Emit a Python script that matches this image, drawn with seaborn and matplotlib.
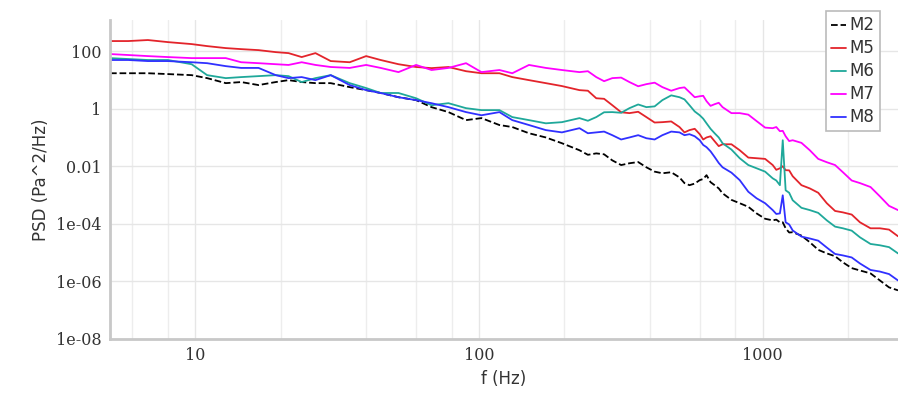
import numpy as np
import pandas as pd
import seaborn as sns
import matplotlib.pyplot as plt
from matplotlib.ticker import LogLocator, FixedLocator, NullFormatter

sns.set_style('white')
plt.rcParams['font.family'] = ['DejaVu Sans']

# frequency grid (Hz)
freq = [5, 5.8, 6.8, 8, 9.7, 11, 12.8, 14.5, 16.7, 19.2, 21.3, 23.7, 26.5, 30, 35, 40, 45,
        52, 60, 68, 78, 90, 102, 118, 131, 150, 172, 196,
        226, 242, 259, 276, 295, 317, 339, 364, 389, 416, 443, 476, 509, 530, 552, 576,
        600, 617, 634, 655, 677, 700, 722, 776, 830, 890, 952, 1020, 1085, 1117, 1150,
        1177, 1205, 1240, 1276, 1370, 1466, 1570, 1683, 1800, 1918, 2060, 2203, 2400,
        2590, 2790, 3000]

m2 = [17, 17, 17, 15.9, 14.6, 11.5, 7.7, 8.4, 6.6, 8.4, 9.8, 8.4, 7.7, 7.7, 5.6, 4.4, 3.5,
      2.5, 1.98, 1.13, 0.76, 0.40, 0.47, 0.27, 0.23, 0.14, 0.10, 0.063,
      0.036, 0.025, 0.028, 0.026, 0.016, 0.011, 0.0127, 0.014, 0.0092, 0.0065, 0.0057,
      0.0062, 0.0041, 0.0026, 0.0022, 0.0025, 0.0033, 0.0036, 0.0049, 0.0028, 0.0022,
      0.0017, 0.00115, 6.8e-4, 5.2e-4, 3.9e-4, 2.3e-4, 1.5e-4, 1.32e-4, 1.4e-4, 1.13e-4,
      1.13e-4, 7.0e-5, 5.0e-5, 5.1e-5, 3.9e-5, 2.3e-5, 1.25e-5, 9.4e-6, 7.5e-6, 4.6e-6,
      2.9e-6, 2.4e-6, 1.9e-6, 1.08e-6, 6.2e-7, 4.9e-7]

m5 = [223, 223, 242, 205, 175, 149, 127, 117, 108, 92, 85, 62, 85, 45, 41, 67, 49,
      35, 28, 25.6, 28, 20, 17, 17, 12.5, 9.8, 7.7, 6.1,
      4.4, 4.2, 2.3, 2.2, 1.32, 0.75, 0.70, 0.78, 0.51, 0.33, 0.34, 0.36, 0.23, 0.15,
      0.18, 0.20, 0.13, 0.085, 0.10, 0.11, 0.074, 0.05, 0.058, 0.058, 0.036, 0.020,
      0.019, 0.018, 0.011, 0.0075, 0.0085, 0.010, 0.0073, 0.0072, 0.0045, 0.0022,
      0.0017, 1.2e-3, 5.2e-4, 2.8e-4, 2.5e-4, 2.1e-4, 1.13e-4, 7.0e-5, 7.0e-5, 6.3e-5,
      3.7e-5]

m6 = [57, 53, 49, 49, 35, 14.6, 11.5, 12.5, 13.5, 14.6, 13.5, 8.4, 11.5, 14.6, 7.7, 5.2, 3.5,
      3.5, 2.3, 1.32, 1.55, 1.04, 0.89, 0.89, 0.51, 0.40, 0.31, 0.34,
      0.47, 0.38, 0.51, 0.75, 0.76, 0.72, 1.04, 1.4, 1.13, 1.2, 1.98, 2.9, 2.5, 2.1,
      1.32, 0.80, 0.59, 0.45, 0.31, 0.20, 0.14, 0.10, 0.063, 0.038, 0.019, 0.011,
      0.0085, 0.0065, 0.0038, 0.0032, 0.0022, 0.080, 0.00146, 1.2e-3, 6.6e-4, 3.6e-4,
      3.0e-4, 2.4e-4, 1.32e-4, 8.0e-5, 7.0e-5, 5.8e-5, 3.4e-5, 2.0e-5, 1.8e-5, 1.55e-5,
      9.4e-6]

m7 = [79, 73, 67, 62, 57, 57, 57, 41, 38, 35, 33, 41, 33, 28, 26, 33, 26,
      18.6, 33, 22, 26, 38, 18.6, 22, 17, 33, 26, 22,
      18.6, 20, 12.5, 9.0, 11.5, 12, 8.4, 6.0, 7.1, 8.0, 5.6, 4.2, 5.2, 5.5,
      3.75, 2.5, 2.7, 2.8, 1.82, 1.25, 1.43, 1.6, 1.13, 0.70, 0.70, 0.62,
      0.37, 0.22, 0.21, 0.23, 0.165, 0.17, 0.11, 0.075, 0.080, 0.065,
      0.036, 0.018, 0.0138, 0.011, 0.0062, 0.0032, 0.0026, 0.0019, 9.0e-4, 4.2e-4,
      3.0e-4]

m8 = [49, 49, 45, 45, 41, 38, 30, 26, 26, 14.6, 11.5, 12.5, 9.8, 14.6, 6.6, 4.4, 3.5,
      2.5, 1.98, 1.55, 1.13, 0.76, 0.59, 0.76, 0.40, 0.27, 0.18, 0.15,
      0.21, 0.14, 0.15, 0.16, 0.12, 0.085, 0.10, 0.12, 0.094, 0.085, 0.12, 0.16, 0.15, 0.12,
      0.13, 0.11, 0.080, 0.055, 0.046, 0.033, 0.021, 0.013, 0.0092, 0.006, 0.0033, 0.0013,
      7.7e-4, 5.2e-4, 3.0e-4, 2.2e-4, 2.3e-4, 9.8e-4, 1.13e-4, 9.5e-5, 5.9e-5, 3.6e-5,
      3.1e-5, 2.6e-5, 1.5e-5, 9.0e-6, 8.0e-6, 6.8e-6, 4.2e-6, 2.5e-6, 2.2e-6, 1.8e-6,
      1.08e-6]

names = ['M2', 'M5', 'M6', 'M7', 'M8']
colors = ['black', '#e3242b', '#1fa89a', '#ff00ff', '#3030ff']
series = [m2, m5, m6, m7, m8]

fig = plt.figure(figsize=(8.98, 3.94), dpi=100)
ax = fig.add_axes([0.1225, 0.1396, 0.8775, 0.8096])

for name, col, vals in zip(names, colors, series):
    sns.lineplot(x=freq, y=vals, ax=ax, color=col, label=name, linewidth=1.3,
                 linestyle='--' if name == 'M2' else '-', estimator=None)

ax.set_xscale('log')
ax.set_yscale('log')
ax.set_xlim(5, 3000)
ax.set_ylim(1e-8, 1.2e3)

# y ticks every two decades, x grid on major and 2,4,6,8 minors
ax.yaxis.set_major_locator(FixedLocator([1e-8, 1e-6, 1e-4, 1e-2, 1, 100]))
ax.yaxis.set_minor_locator(FixedLocator([]))
ax.set_yticklabels(['1e-08', '1e-06', '1e-04', '0.01', '1', '100'])
ax.xaxis.set_major_locator(FixedLocator([10, 100, 1000]))
ax.set_xticklabels(['10', '100', '1000'])
ax.xaxis.set_minor_locator(LogLocator(base=10, subs=[2, 4, 6, 8]))
ax.xaxis.set_minor_formatter(NullFormatter())

ax.grid(True, which='major', color='#e6e6e6', linewidth=1)
ax.grid(True, which='minor', axis='x', color='#ededed', linewidth=1)

for s in ['top', 'right']:
    ax.spines[s].set_visible(False)
for s in ['left', 'bottom']:
    ax.spines[s].set_color('#c8c8c8')
    ax.spines[s].set_linewidth(2)

ax.tick_params(axis='both', which='both', length=0, colors='#333333', pad=6)
for lab in ax.get_xticklabels() + ax.get_yticklabels():
    lab.set_family('DejaVu Serif')
    lab.set_fontsize(11.5)

ax.set_xlabel('f (Hz)', fontsize=12, color='#333333')
ax.set_ylabel('PSD (Pa^2/Hz)', fontsize=12, color='#333333')

leg = ax.legend(loc='upper right', bbox_to_anchor=(0.989, 0.992), bbox_transform=fig.transFigure,
                fontsize=12, handlelength=0.9, handletextpad=0.2, labelspacing=0.3,
                borderpad=0.3, fancybox=False, framealpha=1, edgecolor='#bbbbbb')
leg.get_frame().set_linewidth(1.2)
for t in leg.get_texts():
    t.set_color('#333333')

fig.savefig('out.png', dpi=100)
